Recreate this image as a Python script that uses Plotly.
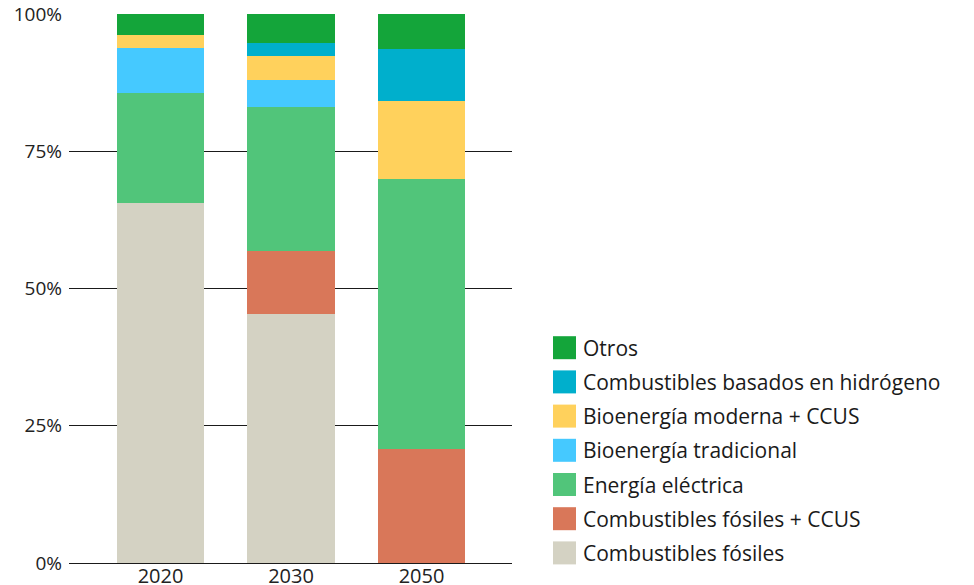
import plotly.graph_objects as go

years = ["2020", "2030", "2050"]
series_names = [
    "Combustibles fósiles",
    "Combustibles fósiles + CCUS",
    "Energía eléctrica",
    "Bioenergía tradicional",
    "Bioenergía moderna + CCUS",
    "Combustibles basados en hidrógeno",
    "Otros",
]
fosiles = [65.6, 45.4, 0.0]
fosiles_ccus = [0.0, 11.4, 20.7]
electrica = [20.05, 26.2, 49.3]
tradicional = [8.15, 5.0, 0.0]
moderna = [2.4, 4.4, 14.2]
hidrogeno = [0.0, 2.4, 9.4]
otros = [3.95, 5.2, 6.4]
series_values = [fosiles, fosiles_ccus, electrica, tradicional, moderna, hidrogeno, otros]
colors = ["#D4D2C3", "#D97759", "#51C57A", "#45C9FF", "#FFD15C", "#00AFCC", "#14A53A"]
y_ticks = [0, 25, 50, 75, 100]

FONT = "'Open Sans', sans-serif"
W, H = 974, 585
ML, MR, MT, MB = 69, 462, 14, 22
PW = W - ML - MR
PH = H - MT - MB

fig = go.Figure()
for name, vals, col in zip(series_names, series_values, colors):
    fig.add_trace(go.Bar(x=years, y=vals, name=name, marker=dict(color=col, line=dict(width=0)),
                         width=0.667, showlegend=False))

def px_to_paper_x(px):
    return (px - ML) / PW

def py_to_paper_y(py):
    return 1 - (py - MT) / PH

# manual legend (top item = last series)
shapes = []
annotations = []
row0 = 347.7
step = 34.2
for i, (name, col) in enumerate(zip(reversed(series_names), reversed(colors))):
    cy = row0 + i * step
    shapes.append(dict(type="rect", xref="paper", yref="paper",
                       x0=px_to_paper_x(553), x1=px_to_paper_x(576),
                       y0=py_to_paper_y(cy + 11.5), y1=py_to_paper_y(cy - 11.5),
                       fillcolor=col, line=dict(width=0), layer="above"))
    annotations.append(dict(xref="paper", yref="paper", x=px_to_paper_x(581), y=py_to_paper_y(cy),
                            xanchor="left", yanchor="middle", text=name, showarrow=False,
                            font=dict(family=FONT, size=21, color="#1a1a1a")))

fig.update_layout(
    width=W, height=H,
    margin=dict(l=ML, r=MR, t=MT, b=MB, autoexpand=False),
    barmode="stack",
    plot_bgcolor="white", paper_bgcolor="white",
    font=dict(family=FONT, size=19, color="#222222"),
    xaxis=dict(type="category", range=[-0.701, 2.693], showgrid=False, showline=False,
               ticks="", tickfont=dict(size=20), automargin=False, ticklabelstandoff=-1),
    yaxis=dict(range=[0, 100], tickvals=y_ticks, ticktext=[f"{v}%" for v in y_ticks],
               showgrid=True, gridcolor="#1a1a1a", gridwidth=1, zeroline=True,
               zerolinecolor="#1a1a1a", zerolinewidth=1, showline=False, ticks="",
               tickfont=dict(size=19), automargin=False, ticklabelstandoff=6),
    shapes=shapes,
    annotations=annotations,
    bargap=0,
)
fig.update_yaxes(layer="below traces")

fig.write_html("out.html")
